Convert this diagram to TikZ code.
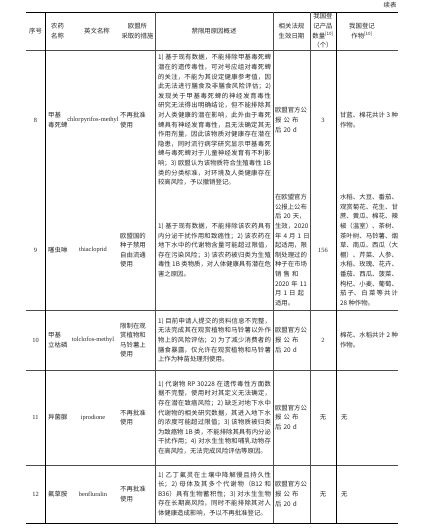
\documentclass[tikz,border=0pt]{standalone}
\usepackage{fontspec}
\setmainfont{Noto Sans CJK SC}
\newfontfamily\lat{Liberation Serif}
\XeTeXlinebreaklocale "zh"
\XeTeXlinebreakskip=0pt plus 1pt
\newcommand\fs{\fontsize{6.4}{9.6}\selectfont}
\newcommand\jl[1]{\makebox[33pt][s]{#1}}
\tikzset{
  cell/.style={inner sep=0pt, font=\fs, text=black!85},
  latcell/.style={inner sep=0pt, text=black!85, font=\lat\fontsize{6.4}{9.6}\selectfont},
  head/.style={cell, align=center},
  leftcell/.style={cell, align=left, anchor=west},
  reason/.style={cell, text width=113pt, align=justify},
  datecell/.style={cell, text width=33pt, align=left},
  crop/.style={cell, text width=58pt, align=justify},
  rule/.style={draw=black!70, line width=0.5pt},
  boldrule/.style={draw=black, line width=0.9pt}
}
\begin{document}
\begin{tikzpicture}[x=1pt, y=-1pt]
\useasboundingbox (0,0) rectangle (421,531);
% rules
\draw[boldrule] (26,12) -- (398,12);
\draw[rule] (26,50) -- (398,50);
\draw[rule] (26,310) -- (398,310);
\draw[rule] (26,370) -- (398,370);
\draw[rule] (26,465) -- (398,465);
\draw[boldrule] (26,523) -- (398,523);
\draw[boldrule] (45,12) -- (45,523);
\draw[rule] (155,12) -- (155,523);
\draw[rule] (273,12) -- (273,523);
\draw[rule] (310,12) -- (310,523);
\draw[boldrule] (336,12) -- (336,523);
% caption
\node[cell] (xu) at (390,5) {续表};
% header
\node[head] (h1) at (35.5,31) {序号};
\node[leftcell] (h2) at (51,31) {农药\\名称};
\node[head] (h3) at (97,31) {英文名称};
\node[head] (h4) at (137.5,31) {欧盟所\\采取的措施};
\node[head] (h5) at (214,31) {禁限用原因概述};
\node[head] (h6) at (291.5,31) {相关法规\\生效日期};
\node[head] (h7) at (323,31) {我国登\\记产品\\数量\textsuperscript{[10]}\\（个）};
\node[head] (h8) at (362,31) {我国登记\\作物\textsuperscript{[10]}};
% row 8
\node[latcell] (n8) at (35.5,120) {8};
\node[leftcell] (c8) at (48,120) {甲基\\毒死蜱};
\node[latcell] (e8) at (93,120) {chlorpyrifos-methyl};
\node[leftcell] (m8) at (120,120) {不再批准\\使用};
\node[reason] (r8) at (214.5,120) {1) 基于现有数据，不能排除甲基毒死蜱潜在的遗传毒性，可对号应组对毒死蜱的关注，不能为其设定健康参考值，因此无法进行膳食及非膳食风险评估；2) 发现关于甲基毒死蜱的神经发育毒性研究无法得出明确结论，但不能排除其对人类健康的潜在影响，此外由于毒死蜱具有神经发育毒性，且无法确定其无作用剂量，因此该物质对健康存在潜在隐患，同时流行病学研究显示甲基毒死蜱与毒死蜱对于儿童神经发育有不利影响；3) 欧盟认为该物质符合生殖毒性 1B 类的分类标准，对环境及人类健康存在较高风险，予以撤销登记。};
\node[datecell] (d8) at (291.5,120) {\jl{欧盟官方公}\\\jl{报 公 布}\\后 20 d};
\node[latcell] (k8) at (323,120) {3};
\node[crop] (p8) at (369,120) {甘蓝、棉花共计 3 种作物。};
% row 9
\node[latcell] (n9) at (35.5,250) {9};
\node[leftcell] (c9) at (48,250) {噻虫啉};
\node[latcell] (e9) at (93,250) {thiacloprid};
\node[leftcell] (m9) at (120,250) {欧盟国的\\种子禁用\\自由流通\\使用};
\node[reason] (r9) at (214.5,250) {1) 基于现有数据，不能排除该农药具有内分泌干扰作用和致癌性；2) 该农药在地下水中的代谢物含量可能超过限值，存在污染风险；3) 该农药被归类为生殖毒性 1B 类物质，对人体健康具有潜在危害之原因。};
\node[datecell] (d9) at (291.5,250) {\jl{在欧盟官方}\\\jl{公报上公布}\\\jl{后 20 天，}\\\jl{生效，2020}\\\jl{年 4 月 1 日}\\\jl{起适用，限}\\\jl{制处理过的}\\\jl{种子在市场}\\\jl{销 售 和}\\\jl{2020 年 11}\\\jl{月 1 日 起}\\适用。};
\node[latcell] (k9) at (323,250) {156};
\node[crop] (p9) at (369,250) {水稻、大豆、番茄、观赏菊花、花生、甘蔗、黄瓜、棉花、辣椒（温室）、茶树、茶叶树、马铃薯、烟草、南瓜、西瓜（大棚）、芹菜、人参、水稻、玫瑰、花卉、番茄、西瓜、菠菜、枸杞、小麦、葡萄、茄子、白菜等共计 28 种作物。};
% row 10
\node[latcell] (n10) at (35.5,340) {10};
\node[leftcell] (c10) at (48,340) {甲基\\立枯磷};
\node[latcell] (e10) at (93,340) {tolclofos-methyl};
\node[leftcell] (m10) at (120,340) {限制在观\\赏植物和\\马铃薯上\\使用};
\node[reason] (r10) at (214.5,340) {1) 目前申请人提交的资料信息不完整，无法完成其在观赏植物和马铃薯以外作物上的风险评估；2) 为了减少消费者的膳食暴露，仅允许在观赏植物和马铃薯上作为种苗处理剂使用。};
\node[datecell] (d10) at (291.5,340) {\jl{欧盟官方公}\\\jl{报 公 布}\\后 20 d};
\node[latcell] (k10) at (323,340) {2};
\node[crop] (p10) at (369,340) {棉花、水稻共计 2 种作物。};
% row 11
\node[latcell] (n11) at (35.5,417.5) {11};
\node[leftcell] (c11) at (48,417.5) {异菌脲};
\node[latcell] (e11) at (93,417.5) {iprodione};
\node[leftcell] (m11) at (120,417.5) {不再批准\\使用};
\node[reason] (r11) at (214.5,417.5) {1) 代谢物 RP 30228 在遗传毒性方面数据不完整，使用时对其定义无法确定，存在潜在致癌风险；2) 缺乏对地下水中代谢物的相关研究数据，其进入地下水的浓度可能超过限值；3) 该物质被归类为致癌物 1B 类，不能排除其具有内分泌干扰作用；4) 对水生生物和哺乳动物存在高风险，无法完成风险评估等原因。};
\node[datecell] (d11) at (291.5,417.5) {\jl{欧盟官方公}\\\jl{报 公 布}\\后 20 d};
\node[cell] (k11) at (323,417.5) {无};
\node[leftcell] (p11) at (341,417.5) {无};
% row 12
\node[latcell] (n12) at (35.5,494) {12};
\node[leftcell] (c12) at (48,494) {氟草胺};
\node[latcell] (e12) at (93,494) {benfluralin};
\node[leftcell] (m12) at (120,494) {不再批准\\使用};
\node[reason] (r12) at (214.5,494) {1) 乙丁氟灵在土壤中降解慢且持久性长；2) 母体及其多个代谢物（B12 和 B36）具有生物蓄积性；3) 对水生生物存在长期高风险，同时不能排除其对人体健康造成影响，予以不再批准登记。};
\node[datecell] (d12) at (291.5,494) {\jl{欧盟官方公}\\\jl{报 公 布}\\后 20 d};
\node[cell] (k12) at (323,494) {无};
\node[leftcell] (p12) at (341,494) {无};
\end{tikzpicture}
\end{document}
